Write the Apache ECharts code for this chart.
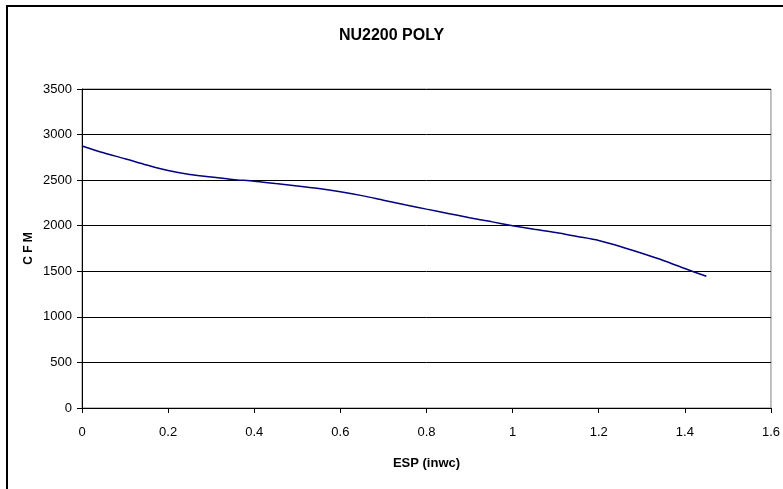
<!DOCTYPE html>
<html>
<head>
<meta charset="utf-8">
<script src="https://cdn.jsdelivr.net/npm/echarts@6/dist/echarts.min.js"></script>
<style>
html,body{margin:0;padding:0;background:#fff;}
#chart{width:783px;height:489px;}
</style>
</head>
<body>
<div id="chart"></div>
<script>
var titleText = 'NU2200 POLY';
var xAxisName = 'ESP (inwc)';
var yAxisName = 'C F M';
var espValues = [0, 0.05, 0.1, 0.15, 0.2, 0.25, 0.3, 0.35, 0.4, 0.45, 0.5, 0.55, 0.6, 0.65, 0.7, 0.75, 0.8, 0.85, 0.9, 0.95, 1.0, 1.05, 1.1, 1.15, 1.2, 1.25, 1.3, 1.35, 1.4, 1.45];
var cfmValues = [2875, 2800, 2735, 2667, 2605, 2562, 2535, 2508, 2488, 2462, 2437, 2408, 2372, 2330, 2280, 2230, 2182, 2135, 2088, 2045, 2000, 1960, 1925, 1882, 1838, 1772, 1697, 1618, 1530, 1445];

var seriesData = espValues.map(function (x, i) { return [x, cfmValues[i]]; });
var font = 'Arial, "Liberation Sans", sans-serif';

var chart = echarts.init(document.getElementById('chart'), null, {renderer: 'canvas'});
chart.setOption({
  backgroundColor: '#ffffff',
  animation: false,
  title: {
    text: titleText,
    left: 'center',
    top: 23,
    textStyle: {fontFamily: font, fontSize: 16, fontWeight: 'bold', color: '#000'}
  },
  graphic: [{
    type: 'rect',
    shape: {x: 7, y: 6, width: 800, height: 520},
    style: {fill: null, stroke: '#000', lineWidth: 2},
    silent: true
  }],
  grid: {
    left: 82, right: 12, top: 89, bottom: 81,
    show: true, borderColor: '#808080', borderWidth: 1, backgroundColor: '#fff'
  },
  xAxis: {
    type: 'value',
    min: 0, max: 1.6, interval: 0.2,
    name: xAxisName,
    nameLocation: 'middle',
    nameGap: 49,
    nameMoveOverlap: false,
    nameTextStyle: {fontFamily: font, fontSize: 13, fontWeight: 'bold', color: '#000'},
    axisLine: {show: true, lineStyle: {color: '#000', width: 1}},
    axisTick: {show: true, inside: false, length: 5, lineStyle: {color: '#000'}},
    axisLabel: {fontFamily: font, fontSize: 13, color: '#000', margin: 18},
    splitLine: {show: false}
  },
  yAxis: {
    type: 'value',
    min: 0, max: 3500, interval: 500,
    name: yAxisName,
    nameLocation: 'middle',
    nameRotate: 90,
    nameGap: 47,
    nameMoveOverlap: false,
    nameTextStyle: {fontFamily: font, fontSize: 12, fontWeight: 'bold', color: '#000'},
    axisLine: {show: true, lineStyle: {color: '#000', width: 1}},
    axisTick: {show: true, inside: false, length: 5, lineStyle: {color: '#000'}},
    axisLabel: {fontFamily: font, fontSize: 13, color: '#000', margin: 10,
      formatter: function (v) { return String(v); }},
    splitLine: {show: true, lineStyle: {color: '#000', width: 1}}
  },
  series: [{
    type: 'line',
    data: seriesData,
    smooth: 0.3,
    showSymbol: false,
    lineStyle: {color: '#000080', width: 1.5}
  }]
});
</script>
</body>
</html>
